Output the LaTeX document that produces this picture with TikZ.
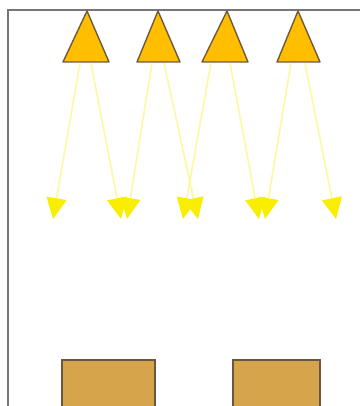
\documentclass[tikz,border=0pt]{standalone}
\usepackage{tikz}
\usetikzlibrary{arrows.meta}
\definecolor{LampFill}{RGB}{255, 190, 0}
\definecolor{LampEdge}{RGB}{110, 90, 60}
\definecolor{RayLine}{RGB}{250, 250, 160}
\definecolor{RayTip}{RGB}{250, 238, 0}
\definecolor{BoxFill}{RGB}{214, 164, 74}
\definecolor{BoxEdge}{RGB}{105, 88, 62}
\definecolor{FrameGray}{RGB}{118, 118, 118}

\tikzset{
  lamp/.style={fill=LampFill, draw=LampEdge, line width=1.4pt, line join=round},
  ray/.style={RayLine, line width=1.6pt, -{Triangle[length=21pt, width=20pt, color=RayTip]}},
  box/.style={fill=BoxFill, draw=BoxEdge, line width=1.4pt}
}

\begin{document}
\begin{tikzpicture}[x=1pt, y=-1pt]
    \useasboundingbox (0,0) rectangle (360,406);
    \fill[white] (0,0) rectangle (360,406);

    % Frame
    \draw[FrameGray, line width=2pt] (8,406) -- (8,10) -- (360,10);

    % Lamps
    \coordinate (lamp1) at (87,11);
    \coordinate (lamp2) at (158,11);
    \coordinate (lamp3) at (227,11);
    \coordinate (lamp4) at (298,11);
    \draw[lamp] (lamp1) -- ++(-24,51) -- ++(46,0) -- cycle;
    \draw[lamp] (lamp2) -- ++(-21,51) -- ++(43,0) -- cycle;
    \draw[lamp] (lamp3) -- ++(-25,51) -- ++(46,0) -- cycle;
    \draw[lamp] (lamp4) -- ++(-21,51) -- ++(43,0) -- cycle;

    % Beams leave the lamp bases
    \coordinate (beam1l) at (80,63);  \coordinate (beam1r) at (91,63);
    \coordinate (beam2l) at (152,63); \coordinate (beam2r) at (164,63);
    \coordinate (beam3l) at (211,63); \coordinate (beam3r) at (230,63);
    \coordinate (beam4l) at (291,63); \coordinate (beam4r) at (305,63);

    % Spots where they land
    \coordinate (spot1l) at (53,219);  \coordinate (spot1r) at (121,219);
    \coordinate (spot2l) at (127,219); \coordinate (spot2r) at (198,219);
    \coordinate (spot3l) at (183,219); \coordinate (spot3r) at (259,219);
    \coordinate (spot4l) at (265,219); \coordinate (spot4r) at (336,219);

    \draw[ray] (beam1l) -- (spot1l);
    \draw[ray] (beam1r) -- (spot1r);
    \draw[ray] (beam2l) -- (spot2l);
    \draw[ray] (beam2r) -- (spot2r);
    \draw[ray] (beam3l) -- (spot3l);
    \draw[ray] (beam3r) -- (spot3r);
    \draw[ray] (beam4l) -- (spot4l);
    \draw[ray] (beam4r) -- (spot4r);

    % Blocks on the floor
    \draw[box] (62,360) rectangle (155,410);
    \draw[box] (233,360) rectangle (320,410);
\end{tikzpicture}
\end{document}
